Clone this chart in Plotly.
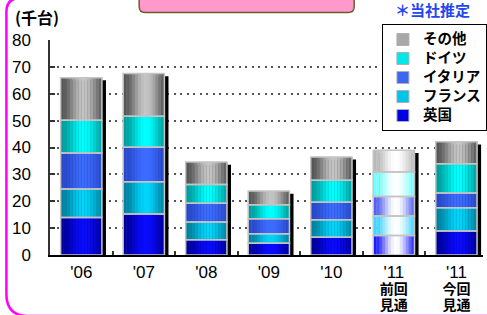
import plotly.graph_objects as go
import numpy as np

# ---------------- data ----------------
categories = ["06", "07", "08", "09", "10", "11a", "11b"]
tick_labels = ["'06", "'07", "'08", "'09", "'10", "'11\n前回\n見通", "'11\n今回\n見通"]
uk      = [14.0, 15.3, 5.7, 4.4, 6.6, 7.3, 8.9]
france  = [10.6, 12.0, 6.6, 3.5, 6.5, 7.2, 8.7]
italy   = [13.4, 12.8, 7.0, 5.6, 6.5, 7.3, 5.5]
germany = [12.1, 11.5, 6.9, 5.2, 8.2, 9.1, 10.9]
other   = [15.9, 15.9, 8.4, 5.1, 8.7, 8.1, 8.1]
series_names = ["英国", "フランス", "イタリア", "ドイツ", "その他"]
y_ticks = [0, 10, 20, 30, 40, 50, 60, 70, 80]
pale_category = "11a"   # previous forecast, drawn in pale colours

# ---------------- styling ----------------
normal_cols = [("#00009a", "#0a0aff"), ("#00809e", "#00d4fa"), ("#2848c8", "#3c6cff"),
               ("#009c9c", "#00ffff"), ("#555555", "#c4c4c4")]
pale_cols = [("#1a1aff", "#ffffff"), ("#40d4ff", "#ffffff"), ("#5060f0", "#ffffff"),
             ("#70ffff", "#ffffff"), ("#b8b8b8", "#ffffff")]
legend_cols = ["#0000e6", "#00c4e8", "#3a68f4", "#00e8e8", "#a8a8a8"]

W = 0.66          # bar width in category units
N = 14            # strips used to imitate the cylinder shading
PEAK = 0.55


def hex2rgb(h):
    h = h.lstrip("#")
    return np.array([int(h[i:i + 2], 16) for i in (0, 2, 4)], dtype=float)


def mix(c1, c2, t):
    c = hex2rgb(c1) * (1 - t) + hex2rgb(c2) * t
    return "rgb(%d,%d,%d)" % tuple(np.round(c).astype(int))


def profile(t):
    d = (t - PEAK) / PEAK
    return float(np.clip(0.5 + 0.5 * np.cos(np.pi * min(abs(d), 1.0)), 0, 1))


values = [uk, france, italy, germany, other]
vals = np.array(values, dtype=float)
bases = np.vstack([np.zeros(len(categories)), np.cumsum(vals, axis=0)[:-1]])
totals = vals.sum(axis=0)

fig = go.Figure()

# drop shadow
fig.add_trace(go.Bar(x=categories, y=totals - 1.0, base=np.zeros(len(categories)),
                     width=W, offset=-W / 2 + 0.065, marker=dict(color="#000000", line=dict(width=0)),
                     showlegend=False, hoverinfo="skip"))

# shaded strips
for s in range(len(values)):
    for k in range(N):
        t = (k + 0.5) / N
        b = profile(t)
        cols = []
        for c in categories:
            e, h = pale_cols[s] if c == pale_category else normal_cols[s]
            cols.append(mix(e, h, b))
        fig.add_trace(go.Bar(x=categories, y=vals[s], base=bases[s],
                             width=W / N + 0.006, offset=-W / 2 + k * W / N,
                             marker=dict(color=cols, line=dict(width=0)),
                             showlegend=False, hoverinfo="skip"))

# segment outlines
for s in range(len(values)):
    fig.add_trace(go.Bar(x=categories, y=vals[s], base=bases[s], width=W, offset=-W / 2,
                         marker=dict(color="rgba(0,0,0,0)", line=dict(color="#c4c4c4", width=1.5)),
                         showlegend=False, name=series_names[s]))

# legend entries (top: その他 ... bottom: 英国)
for s in reversed(range(len(values))):
    fig.add_trace(go.Bar(x=[categories[0]], y=[None],
                         name="<span style='font-size:14.5px'>%s</span>" % series_names[s],
                         marker=dict(color=legend_cols[s], line=dict(color="#b0b0b0", width=1)),
                         showlegend=True))

# ---------------- layout helpers (pixel -> paper) ----------------
L, R, T, B = 50, 487, 40, 255


def fx(px):
    return (px - L) / (R - L)


def fy(py):
    return (B - py) / (B - T)


def path(points):
    out = []
    for p in points:
        if p[0] == "Z":
            out.append("Z")
        elif p[0] == "Q":
            out.append("Q%.5f,%.5f %.5f,%.5f" % (fx(p[1]), fy(p[2]), fx(p[3]), fy(p[4])))
        else:
            out.append("%s%.5f,%.5f" % (p[0], fx(p[1]), fy(p[2])))
    return " ".join(out)


frame = path([("M", 520, -2), ("L", 20, -2), ("Q", 6, -2, 6, 12), ("L", 6, 294),
              ("Q", 6, 316, 28, 316), ("L", 520, 316)])
pink = path([("M", 140, -10), ("L", 140, 6.5), ("Q", 140, 12.5, 146, 12.5), ("L", 351, 12.5),
             ("Q", 357, 12.5, 357, 6.5), ("L", 357, -10), ("Z",)])


def fmt_tick(lbl):
    parts = lbl.split("\n")
    out = ["<span style='font-size:17px'>%s</span>" % parts[0]]
    out += ["<span style='font-size:14px;font-weight:bold'>%s</span>" % p for p in parts[1:]]
    return "<br>".join(out)


fig.update_layout(
    width=487, height=315,
    margin=dict(l=L, r=487 - R, t=T, b=315 - B, pad=0),
    barmode="overlay",
    plot_bgcolor="white", paper_bgcolor="white",
    font=dict(family="Liberation Sans, Arial, Noto Sans CJK JP", color="#000000"),
    showlegend=True,
    legend=dict(x=fx(385), y=fy(24), xanchor="left", yanchor="top",
                bgcolor="white", bordercolor="#000000", borderwidth=1,
                font=dict(family="Noto Sans CJK JP", size=11.3, weight="bold", color="#000000"),
                traceorder="normal", tracegroupgap=0),
    xaxis=dict(type="category", categoryorder="array", categoryarray=categories,
               range=[-0.5, -0.5 + (R - L) / 63.1],
               tickvals=categories, ticktext=[fmt_tick(t) for t in tick_labels],
               tickfont=dict(size=12, family="Liberation Sans, Arial, Noto Sans CJK JP"),
               ticks="inside", tickson="boundaries", ticklen=4, tickcolor="#333333", tickwidth=1.5,
               ticklabelstandoff=7,
               showline=True, linecolor="#000000", linewidth=2, showgrid=False, fixedrange=True),
    yaxis=dict(range=[0, 80], tickvals=y_ticks, ticktext=[str(v) for v in y_ticks],
               tickfont=dict(size=17, family="Liberation Sans, Arial"),
               ticks="inside", ticklen=5, tickcolor="#333333", tickwidth=1.5,
               ticklabelstandoff=14,
               showline=True, linecolor="#333333", linewidth=1.5,
               showgrid=True, gridcolor="#555555", gridwidth=1.5, griddash="2px,4.5px",
               zeroline=False, fixedrange=True),
    shapes=[
        dict(type="path", xref="paper", yref="paper", path=frame,
             line=dict(color="#ff00ff", width=2.5), layer="above"),
        dict(type="path", xref="paper", yref="paper", path=pink, fillcolor="#ff99cc",
             line=dict(color="#6b5d2e", width=1.5), layer="above"),
    ],
    annotations=[
        dict(text="<b>(千台)</b>", x=fx(37), y=fy(17), xref="paper", yref="paper",
             xanchor="center", yanchor="middle",
             showarrow=False, font=dict(size=16, family="Noto Sans CJK JP", color="#000000")),
        dict(text="<b>＊当社推定</b>", x=fx(436), y=fy(10), xref="paper", yref="paper",
             xanchor="center", yanchor="middle",
             showarrow=False, font=dict(size=15, family="Noto Sans CJK JP", color="#2446f2")),
    ],
)

fig.write_html("out.html", config={"displayModeBar": False},
               post_script="document.body.style.margin='0px';document.body.style.padding='0px';")
